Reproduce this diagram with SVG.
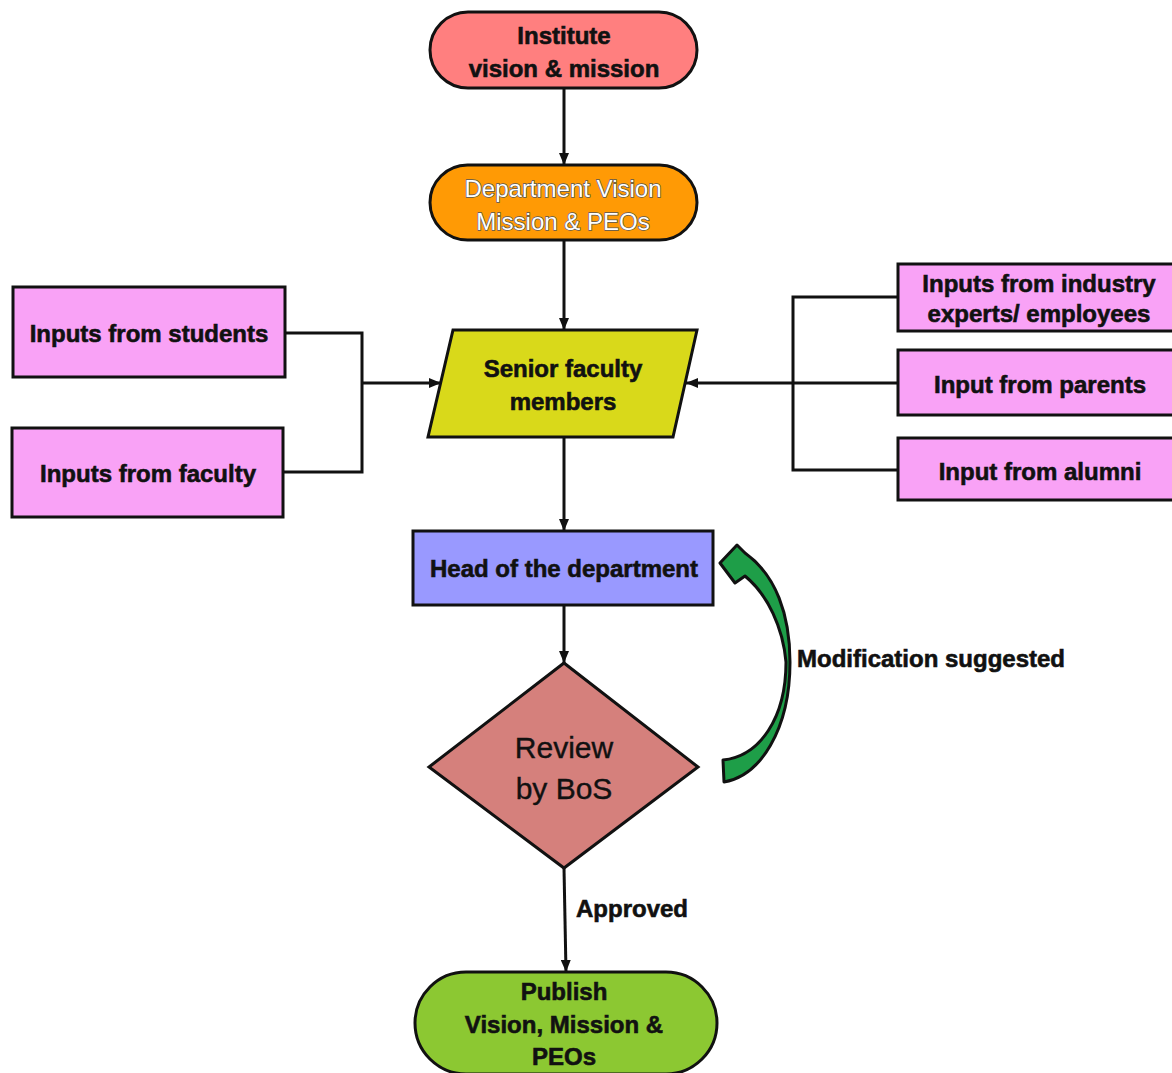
<svg xmlns="http://www.w3.org/2000/svg" width="1172" height="1073" viewBox="0 0 1172 1073">
  <style>
    .node { stroke: #111; stroke-width: 3; }
    .lbl { font-family: "Liberation Sans", Arial, sans-serif; font-weight: bold; font-size: 24px; fill: #111; stroke: #111; stroke-width: 0.6; text-anchor: middle; }
    .lbl-w { font-family: "Liberation Sans", Arial, sans-serif; font-size: 24px; fill: #fff; stroke: #555; stroke-width: 1.4; paint-order: stroke; text-anchor: middle; }
    .lbl-r { font-family: "Liberation Sans", Arial, sans-serif; font-size: 30px; fill: #111; stroke: #111; stroke-width: 0.4; text-anchor: middle; }
    .edge { fill: none; stroke: #111; stroke-width: 3; }
    .input { fill: #F9A2F6; }
  </style>
  <defs>
    <marker id="arrow" viewBox="0 0 12 10" refX="12" refY="5" markerWidth="12" markerHeight="10" markerUnits="userSpaceOnUse" orient="auto">
      <path d="M0,0 L12,5 L0,10 Z" fill="#111"/>
    </marker>
  </defs>

  <!-- connectors -->
  <g id="connectors">
    <line class="edge" x1="564" y1="88" x2="564" y2="165" marker-end="url(#arrow)"/>
    <line class="edge" x1="564" y1="240" x2="564" y2="330" marker-end="url(#arrow)"/>
    <line class="edge" x1="564" y1="437" x2="564" y2="531" marker-end="url(#arrow)"/>
    <line class="edge" x1="564" y1="605" x2="564" y2="663" marker-end="url(#arrow)"/>
    <line class="edge" x1="564" y1="868" x2="566" y2="972" marker-end="url(#arrow)"/>
    <!-- left inputs merge -->
    <polyline class="edge" points="285,333 362,333 362,472 283,472"/>
    <line class="edge" x1="362" y1="383" x2="441" y2="383" marker-end="url(#arrow)"/>
    <!-- right inputs merge -->
    <polyline class="edge" points="898,297 793,297 793,470 898,470"/>
    <line class="edge" x1="898" y1="383" x2="686" y2="383" stroke-width="4" marker-end="url(#arrow)"/>
    <!-- feedback arrow -->
    <path id="feedback" d="M724,782 C760,776 790,730 790,662 C790,615 776,575 745,553 L737,545 L720,563 L735,583 L745,576 C768,595 783,628 786,662 C786,718 760,756 723,760 Z" fill="#1E9E48" stroke="#111" stroke-width="3" stroke-linejoin="round"/>
    <text class="lbl" x="931" y="667">Modification suggested</text>
    <text class="lbl" x="632" y="917">Approved</text>
  </g>

  <g id="institute">
    <rect class="node" x="430" y="12" width="267" height="76" rx="38" fill="#FF7F7F"/>
    <text class="lbl" x="564" y="44">Institute</text>
    <text class="lbl" x="564" y="77">vision &amp; mission</text>
  </g>

  <g id="department">
    <rect class="node" x="430" y="165" width="267" height="75" rx="37.5" fill="#FF9A05"/>
    <text class="lbl-w" x="563" y="197">Department Vision</text>
    <text class="lbl-w" x="563" y="230">Mission &amp; PEOs</text>
  </g>

  <g id="senior-faculty">
    <polygon class="node" points="453,330 697,330 673,437 428,437" fill="#D9D91A"/>
    <text class="lbl" x="563" y="377">Senior faculty</text>
    <text class="lbl" x="563" y="410">members</text>
  </g>

  <g id="inputs-students">
    <rect class="node input" x="13" y="287" width="272" height="90"/>
    <text class="lbl" x="149" y="342">Inputs from students</text>
  </g>

  <g id="inputs-faculty">
    <rect class="node input" x="12" y="428" width="271" height="89"/>
    <text class="lbl" x="148" y="482">Inputs from faculty</text>
  </g>

  <g id="inputs-industry">
    <rect class="node input" x="898" y="264" width="284" height="67"/>
    <text class="lbl" x="1039" y="292">Inputs from industry</text>
    <text class="lbl" x="1039" y="322">experts/ employees</text>
  </g>

  <g id="input-parents">
    <rect class="node input" x="898" y="350" width="284" height="65"/>
    <text class="lbl" x="1040" y="393">Input from parents</text>
  </g>

  <g id="input-alumni">
    <rect class="node input" x="898" y="438" width="284" height="62"/>
    <text class="lbl" x="1040" y="480">Input from alumni</text>
  </g>

  <g id="hod">
    <rect class="node" x="413" y="531" width="300" height="74" fill="#9999FF"/>
    <text class="lbl" x="564" y="577">Head of the department</text>
  </g>

  <g id="bos-review">
    <polygon class="node" points="564,663 698,767 564,868 429,767" fill="#D5807C"/>
    <text class="lbl-r" x="564" y="758">Review</text>
    <text class="lbl-r" x="564" y="799">by BoS</text>
  </g>

  <g id="publish">
    <rect class="node" x="415" y="972" width="302" height="102" rx="51" fill="#8CC832"/>
    <text class="lbl" x="564" y="1000">Publish</text>
    <text class="lbl" x="564" y="1033">Vision, Mission &amp;</text>
    <text class="lbl" x="564" y="1065">PEOs</text>
  </g>
</svg>
